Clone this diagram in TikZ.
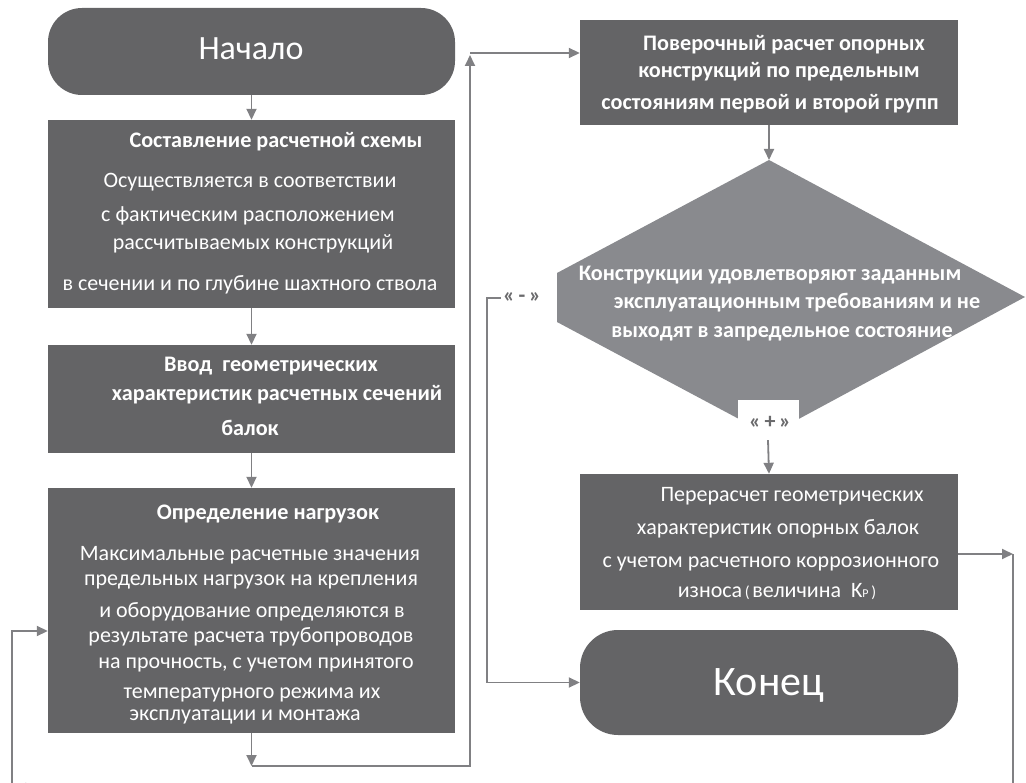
\documentclass[tikz,border=0pt]{standalone}
\usepackage{fontspec}
\setmainfont{Carlito}
\usetikzlibrary{arrows.meta}
\definecolor{boxgray}{HTML}{646466}
\definecolor{diagray}{HTML}{898A8E}
\definecolor{linegray}{HTML}{808083}
\definecolor{lblgray}{HTML}{6A6A6C}
\begin{document}
\begin{tikzpicture}[x=1pt,y=-1pt,
  box/.style={fill=boxgray, draw=none, inner sep=0pt},
  term/.style={fill=boxgray, draw=none, inner sep=0pt, rounded corners=34pt},
  tr/.style={text=white, font=\fontsize{22}{26}\selectfont, inner sep=0pt, anchor=base},
  tb/.style={text=white, font=\fontsize{22.2}{26}\selectfont\bfseries, inner sep=0pt, anchor=base},
  tbig/.style={text=white, inner sep=0pt},
  lbl/.style={text=lblgray, font=\fontsize{22}{26}\selectfont\bfseries, inner sep=2pt},
  conn/.style={draw=linegray, line width=1.8pt},
  arr/.style={conn, -{Triangle[length=11pt,width=10pt]}}
]
\useasboundingbox (0,0) rectangle (1026,783);

% ---------- left column ----------
\node[term, minimum width=407pt, minimum height=87pt] (start) at (251.5,51.5) {};
\node[tbig, font=\fontsize{34}{40}\selectfont] (startt) at (251,49) {Начало};

\node[box, minimum width=407pt, minimum height=188pt] (b1) at (251.5,214) {};
\node[tb] (b1a) at (276,148) {Составление расчетной схемы};
\node[tr] (b1b) at (250,188) {Осуществляется в соответствии};
\node[tr] (b1c) at (248,222) {с фактическим расположением};
\node[tr] (b1d) at (253,250) {рассчитываемых конструкций};
\node[tr] (b1e) at (250,291) {в сечении и по глубине шахтного ствола};

\node[box, minimum width=407pt, minimum height=108pt] (b2) at (251.5,399) {};
\node[tb] (b2a) at (271,372) {Ввод\ \ геометрических};
\node[tb] (b2b) at (277,401) {характеристик расчетных сечений};
\node[tb] (b2c) at (250,436) {балок};

\node[box, minimum width=407pt, minimum height=245pt] (b3) at (251.5,610.5) {};
\node[tb] (b3a) at (268,519) {Определение нагрузок};
\node[tr] (b3b) at (250,560) {Максимальные расчетные значения};
\node[tr] (b3c) at (251,585) {предельных нагрузок на крепления};
\node[tr] (b3d) at (252,617) {и оборудование определяются в};
\node[tr] (b3e) at (251,642) {результате расчета трубопроводов};
\node[tr] (b3f) at (256,668) {на прочность, с учетом принятого};
\node[tr] (b3g) at (252,698) {температурного режима их};
\node[tr] (b3h) at (245,720) {эксплуатации и монтажа};

% ---------- right column ----------
\node[box, minimum width=378pt, minimum height=105pt] (b4) at (769,72.5) {};
\node[tb] (b4a) at (784,51) {Поверочный расчет опорных};
\node[tb] (b4b) at (779,78) {конструкций по предельным};
\node[tb] (b4c) at (770,110) {состояниям первой и второй групп};

\coordinate (dtop) at (769,160);
\fill[diagray] (dtop) -- (1025,297) -- (769,435) -- (557,322) -- (557,273) -- cycle;
\node[tb] (d1) at (770,281) {Конструкции удовлетворяют заданным};
\node[tb] (d2) at (797,309) {эксплуатационным требованиям и не};
\node[tb] (d3) at (782,338) {выходят в запредельное состояние};

\node[fill=white, minimum width=61pt, minimum height=40pt, inner sep=0pt] (plus) at (768,420) {};
\node[lbl] (plust) at (770,422) {«\,+\,»};
\node[lbl] (minus) at (522,298) {«\,-\,»};

\node[box, minimum width=378pt, minimum height=136pt] (b5) at (769,542) {};
\node[tr] (b5a) at (792,501) {Перерасчет геометрических};
\node[tr] (b5b) at (778,534) {характеристик опорных балок};
\node[tr] (b5c) at (771,567) {с учетом расчетного коррозионного};
\node[tr] (b5d) at (777,597) {износа{\fontsize{16}{16}\selectfont\,(\,}величина\ \ K{\fontsize{12}{12}\selectfont P}{\fontsize{16}{16}\selectfont\,)}};

\node[term, rounded corners=38pt, minimum width=378pt, minimum height=105pt] (end) at (769,682.5) {};
\node[tbig, font=\fontsize{42}{48}\selectfont] (endt) at (769,685) {Конец};

% ---------- connectors ----------
\draw[arr] (start.south) -- (b1.north);
\draw[arr] (b1.south) -- (b2.north);
\draw[arr] (b2.south) -- (b3.north);

\coordinate (l1) at (251.5,766);
\coordinate (l2) at (470,766);
\coordinate (l3) at (470,55);
\coordinate (l4) at (470,53);
\draw[arr] (b3.south) -- (l1);
\draw[arr] (l1) -- (l2) -- (l3);
\draw[arr] (l4) -- (l4 -| b4.west);

\draw[arr] (b4.south) -- (dtop);
\draw[arr] (plus.south) -- (b5.north);

\coordinate (m1) at (487,298);
\draw[arr] (minus.west) -- (m1) |- (end.west);

\begin{scope}
\clip (0,0) rectangle (1026,783);
\coordinate (r1) at (1013,554);
\coordinate (r2) at (1013,788);
\coordinate (r3) at (15,788);
\coordinate (r4) at (12,792);
\coordinate (r5) at (12,631);
\draw[arr] (r1 -| b5.east) -- (r1);
\draw[arr] (r1) -- (r2) -- (r3);
\draw[arr] (r4) -- (r5) -- (r5 -| b3.west);
\end{scope}
\end{tikzpicture}
\end{document}
